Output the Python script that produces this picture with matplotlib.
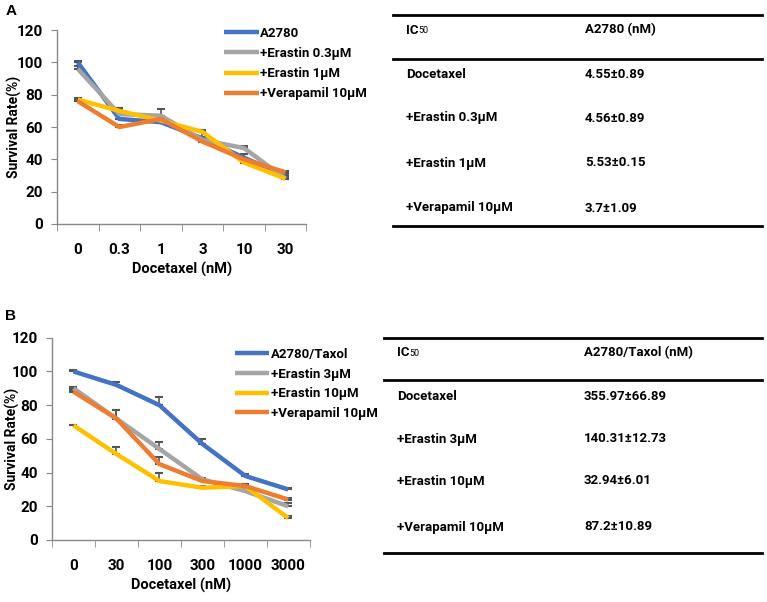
import numpy as np
import matplotlib
matplotlib.use('Agg')
import matplotlib.pyplot as plt
from matplotlib.lines import Line2D

plt.rcParams['font.family'] = ['Roboto', 'DejaVu Sans']
plt.rcParams['font.weight'] = 'bold'

# panel A data
doses_a = ['0', '0.3', '1', '3', '10', '30']
labels_a = ['A2780', '+Erastin 0.3\u03bcM', '+Erastin 1\u03bcM', '+Verapamil 10\u03bcM']
blue_a = [100, 65, 63, 53, 41, 30]
gray_a = [96, 68, 67, 52, 47, 28]
yellow_a = [77, 70, 64, 57, 38, 28]
orange_a = [76, 60, 65, 51, 40, 32]
err_blue_a = [1, 7, 2, 4, 2, 1]
err_gray_a = [2, 4, 4, 2, 1, 2]
err_yellow_a = [1, 1, 1, 1, 1, 1]
err_orange_a = [1, 1, 1, 1, 1, 1]

# panel B data
doses_b = ['0', '30', '100', '300', '1000', '3000']
labels_b = ['A2780/Taxol', '+Erastin 3\u03bcM', '+Erastin 10\u03bcM', '+Verapamil 10\u03bcM']
blue_b = [100, 92, 80, 57, 38, 30]
gray_b = [90, 72, 54, 36, 29, 20]
yellow_b = [68, 51, 35, 31, 32, 13]
orange_b = [88, 72, 45, 35, 32, 24]
err_blue_b = [1, 2, 5, 3, 1, 1]
err_gray_b = [1, 5, 4, 1, 1, 2]
err_yellow_b = [0.5, 4, 5, 1, 1, 1]
err_orange_b = [1, 5, 4, 1, 1, 1]

# IC50 tables
table_a_head = ['IC', 'A2780 (nM)']
table_a_rows = ['Docetaxel', '+Erastin 0.3\u03bcM', '+Erastin 1\u03bcM', '+Verapamil 10\u03bcM']
table_a_vals = ['4.55\u00b10.89', '4.56\u00b10.89', '5.53\u00b10.15', '3.7\u00b11.09']
table_b_head = ['IC', 'A2780/Taxol (nM)']
table_b_rows = ['Docetaxel', '+Erastin 3\u03bcM', '+Erastin 10\u03bcM', '+Verapamil 10\u03bcM']
table_b_vals = ['355.97\u00b166.89', '140.31\u00b112.73', '32.94\u00b16.01', '87.2\u00b110.89']

colors = ['#4472C4', '#A5A5A5', '#FFC000', '#ED7D31']
fs = 9.5

fig = plt.figure(figsize=(7.67, 6.02), dpi=100)
ax_a = fig.add_axes([0.0743, 0.628, 0.325, 0.322])
ax_b = fig.add_axes([0.0678, 0.103, 0.336, 0.336])


def draw_panel(ax, doses, series, errs, labels, legend_pos, ylab_x, spacing):
    x = np.arange(len(doses))
    for ys, e in zip(series, errs):
        ax.errorbar(x, ys, yerr=[np.zeros(len(ys)), e], fmt='none',
                    ecolor='#555555', elinewidth=1.2, capsize=3, capthick=1.5, zorder=2)
    for ys, c, lab in zip(series, colors, labels):
        ax.plot(x, ys, color=c, lw=3.2, label=lab, zorder=3, solid_capstyle='butt')
    ax.set_xlim(-0.5, len(doses) - 0.5)
    ax.set_ylim(0, 120)
    ax.set_yticks(range(0, 121, 20))
    ax.set_xticks(x)
    ax.set_xticklabels(doses)
    ax.set_xticks(np.arange(-0.5, len(doses), 1), minor=True)
    ax.tick_params(axis='x', which='major', length=0, pad=14, labelsize=11)
    ax.tick_params(axis='x', which='minor', length=5, direction='out', color='#888888')
    ax.tick_params(axis='y', length=4, direction='out', color='#888888', labelsize=11, pad=6)
    for s in ['top', 'right']:
        ax.spines[s].set_visible(False)
    for s in ['left', 'bottom']:
        ax.spines[s].set_color('#888888')
        ax.spines[s].set_linewidth(1)
    ax.set_xlabel('Docetaxel (nM)', fontsize=10.5, fontweight='bold', labelpad=3)
    ax.set_ylabel('Survival Rate(%)', fontsize=10, fontweight='bold')
    ax.yaxis.set_label_coords(ylab_x, 0.5)
    ax.legend(loc='upper left', bbox_to_anchor=legend_pos, frameon=False, fontsize=fs,
              handlelength=2.6, handletextpad=0.1, labelspacing=spacing, borderaxespad=0)


draw_panel(ax_a, doses_a, [blue_a, gray_a, yellow_a, orange_a],
           [err_blue_a, err_gray_a, err_yellow_a, err_orange_a], labels_a,
           (0.65, 1.045), -0.14, 0.55)
draw_panel(ax_b, doses_b, [blue_b, gray_b, yellow_b, orange_b],
           [err_blue_b, err_gray_b, err_yellow_b, err_orange_b], labels_b,
           (0.69, 0.975), -0.125, 0.5)

fig.text(0.007, 0.993, 'A', fontsize=11, fontweight='bold', family='Liberation Sans', va='top')
fig.text(0.007, 0.487, 'B', fontsize=11, fontweight='bold', family='Liberation Sans', va='top')

# tables drawn in an overlay axes using pixel-like units
ov = fig.add_axes([0, 0, 1, 1])
ov.set_xlim(0, 767)
ov.set_ylim(602, 0)
ov.axis('off')


def draw_table(head, rows, vals, x0, x1, col1, col2, y_top, y_head, y_bottom, head_y, row_ys):
    for yy in (y_top, y_head, y_bottom):
        ov.add_line(Line2D([x0, x1], [yy, yy], color='black', lw=2))
    t = ov.text(col1, head_y, head[0], fontsize=fs, va='center', fontweight='bold')
    ov.annotate('50', xy=(1, 0.12), xycoords=t, fontsize=fs - 3, va='bottom', fontweight='normal')
    ov.text(col2, head_y, head[1], fontsize=fs, va='center', fontweight='bold')
    for name, val, yy in zip(rows, vals, row_ys):
        ov.text(col1, yy, name, fontsize=fs, va='center', fontweight='bold')
        ov.text(col2, yy, val, fontsize=fs, va='center', fontweight='bold')


draw_table(table_a_head, table_a_rows, table_a_vals, 393, 762, 406, 585,
           15, 59, 226, 30, [74, 118, 163, 208])
draw_table(table_b_head, table_b_rows, table_b_vals, 384, 762, 397, 584,
           338, 380, 553, 353, [396, 439, 481, 527])

fig.savefig('out.png', dpi=100)
